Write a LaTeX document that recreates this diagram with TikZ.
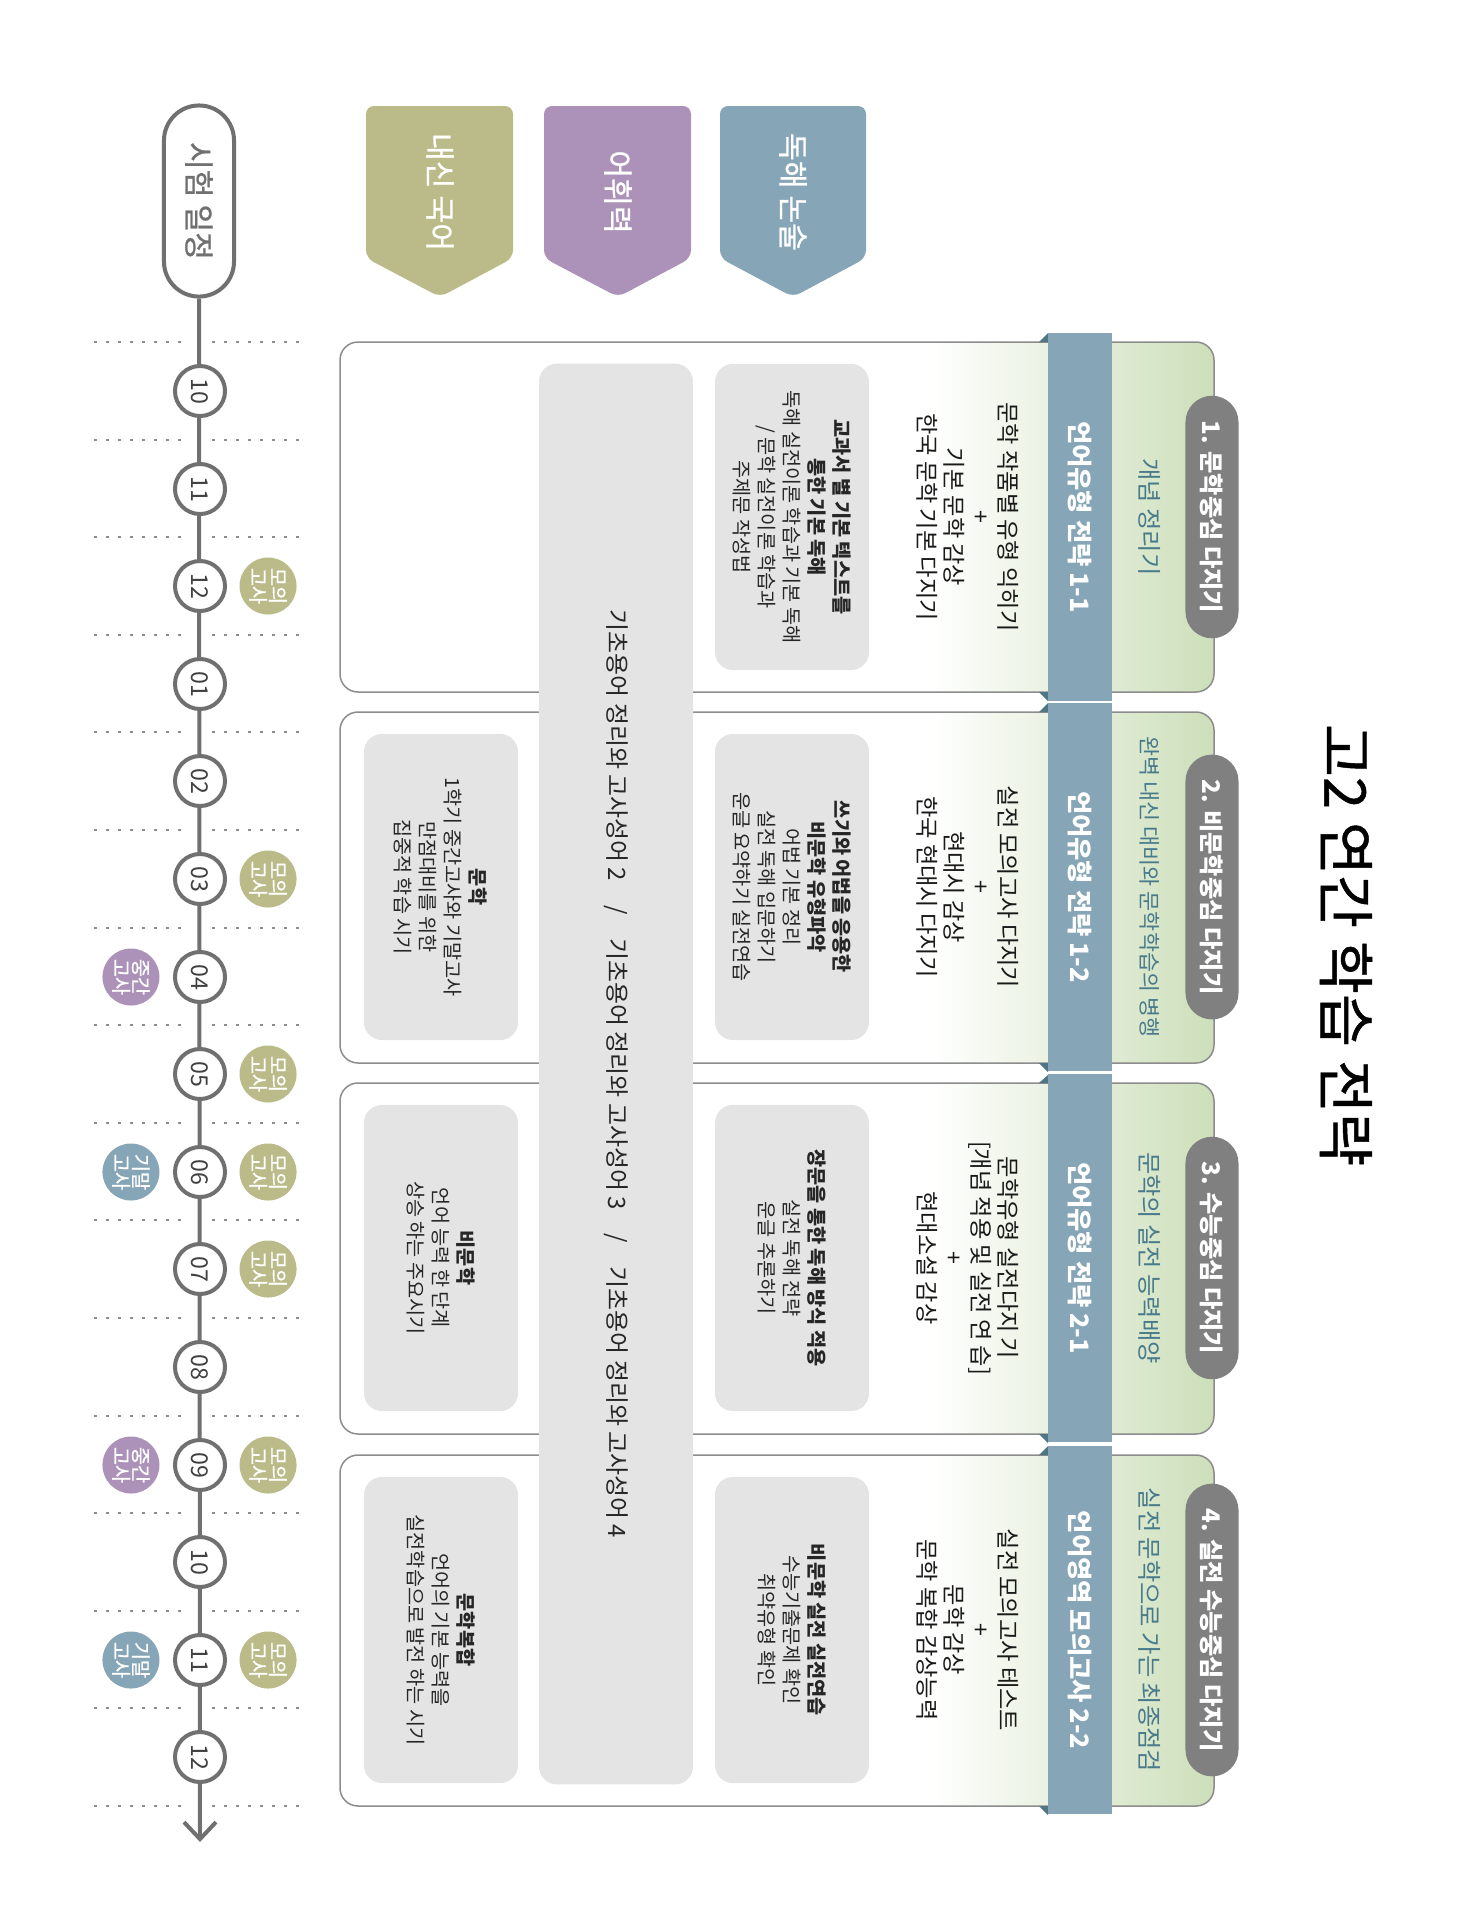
\documentclass[tikz,border=0pt]{standalone}
\usepackage{fontspec}
\setmainfont{Noto Sans CJK KR}
\newfontface\medfont[FakeBold=0.8]{Noto Sans CJK KR}
\usetikzlibrary{arrows.meta}

\definecolor{cOlive}{RGB}{187,187,137}
\definecolor{cPurple}{RGB}{172,146,185}
\definecolor{cBlue}{RGB}{134,166,183}
\definecolor{cFold}{RGB}{80,118,134}
\definecolor{cPill}{RGB}{128,128,128}
\definecolor{cBox}{RGB}{228,228,228}
\definecolor{cGreen}{RGB}{205,223,186}
\definecolor{cTeal}{RGB}{72,122,140}
\definecolor{cLine}{RGB}{112,112,112}
\definecolor{cGuide}{RGB}{140,140,140}

\tikzset{
  tl/.style={draw=cLine, line width=0.04cm},
  guide/.style={draw=cGuide, line width=0.015cm, dash pattern=on 0.03cm off 0.09cm},
  month/.style={circle, draw=cLine, line width=0.04cm, fill=white, minimum size=0.5cm, inner sep=0pt,
    rotate=-90, text=black!75, font=\fontsize{6.6}{6.6}\selectfont},
  badge/.style={circle, fill=#1, minimum size=0.57cm, inner sep=0pt, rotate=-90, text=white,
    align=center, font=\medfont\fontsize{5.6}{5.6}\selectfont},
  cat/.style={rotate=-90, text=white, font=\medfont\fontsize{8.6}{8.6}\selectfont},
  panel/.style={draw=cGuide, line width=0.015cm, rounded corners=0.18cm},
  band/.style={rotate=-90, fill=cBlue, minimum width=3.68cm, minimum height=0.64cm, inner sep=0pt,
    text=white, font=\bfseries\fontsize{7.2}{7.2}\selectfont},
  subtitle/.style={rotate=-90, text=cTeal, font=\fontsize{6.9}{6.9}\selectfont},
  pill/.style={rotate=-90, fill=cPill, rounded corners=0.265cm, minimum height=0.53cm, inner ysep=0pt,
    inner xsep=0.25cm, text=white, font=\bfseries\fontsize{6.9}{6.9}\selectfont},
  maintext/.style={rotate=-90, align=center, text=black!90, font=\fontsize{6.6}{7.7}\selectfont},
  graybox/.style={rotate=-90, fill=cBox, rounded corners=0.18cm, minimum width=3.06cm, minimum height=1.54cm,
    inner sep=0pt, align=center, text=black!85, font=\fontsize{5.6}{7.1}\selectfont}
}

\begin{document}
\begin{tikzpicture}[x=0.01cm, y=-0.01cm]
\useasboundingbox (0,0) rectangle (1469,1920);

% title
\node[rotate=-90, font=\medfont\fontsize{16.4}{16.4}\selectfont] (title) at (1346,945) {고2 연간 학습 전략};

% category heads
\fill[cOlive, rounded corners=0.08cm] (366,106) -- (513,106) -- (513,258) -- (440,297) -- (366,258) -- cycle;
\node[cat] (naesin) at (440,192) {내신 국어};
\fill[cPurple, rounded corners=0.08cm] (544,106) -- (691,106) -- (691,258) -- (618,297) -- (544,258) -- cycle;
\node[cat] (vocab) at (618,192) {어휘력};
\fill[cBlue, rounded corners=0.08cm] (720,106) -- (866,106) -- (866,258) -- (793,297) -- (720,258) -- cycle;
\node[cat] (reading) at (793,192) {독해 논술};

% guide lines
\draw[guide] (94,342) -- (188,342) (212,342) -- (305,342);
\draw[guide] (94,440) -- (188,440) (212,440) -- (305,440);
\draw[guide] (94,537) -- (188,537) (212,537) -- (305,537);
\draw[guide] (94,635) -- (188,635) (212,635) -- (305,635);
\draw[guide] (94,732) -- (188,732) (212,732) -- (305,732);
\draw[guide] (94,830) -- (188,830) (212,830) -- (305,830);
\draw[guide] (94,928) -- (188,928) (212,928) -- (305,928);
\draw[guide] (94,1025) -- (188,1025) (212,1025) -- (305,1025);
\draw[guide] (94,1123) -- (188,1123) (212,1123) -- (305,1123);
\draw[guide] (94,1220) -- (188,1220) (212,1220) -- (305,1220);
\draw[guide] (94,1318) -- (188,1318) (212,1318) -- (305,1318);
\draw[guide] (94,1416) -- (188,1416) (212,1416) -- (305,1416);
\draw[guide] (94,1513) -- (188,1513) (212,1513) -- (305,1513);
\draw[guide] (94,1611) -- (188,1611) (212,1611) -- (305,1611);
\draw[guide] (94,1708) -- (188,1708) (212,1708) -- (305,1708);
\draw[guide] (94,1806) -- (188,1806) (212,1806) -- (305,1806);

% timeline
\node[rotate=-90, draw=cLine, line width=0.04cm, fill=white, rounded corners=0.35cm, minimum width=1.91cm,
  minimum height=0.70cm, text=cLine, font=\medfont\fontsize{8.6}{8.6}\selectfont] (sched) at (199,201) {시험 일정};
\coordinate (tlend) at (200,1842);
\draw[tl, -{Straight Barb[length=0.17cm, width=0.32cm]}] (sched.east) -- (tlend);

\node[month] (m10) at (200,391) {10};
\node[month] (m11) at (200,489) {11};
\node[month] (m12) at (200,586) {12};
\node[month] (m01) at (200,684) {01};
\node[month] (m02) at (200,781) {02};
\node[month] (m03) at (200,879) {03};
\node[month] (m04) at (200,977) {04};
\node[month] (m05) at (200,1074) {05};
\node[month] (m06) at (200,1172) {06};
\node[month] (m07) at (200,1269) {07};
\node[month] (m08) at (200,1367) {08};
\node[month] (m09) at (200,1465) {09};
\node[month] (m10b) at (200,1562) {10};
\node[month] (m11b) at (200,1660) {11};
\node[month] (m12b) at (200,1757) {12};

% exams
\node[badge=cOlive] (mock12) at ([xshift=0.68cm]m12) {모의\\고사};
\node[badge=cOlive] (mock03) at ([xshift=0.68cm]m03) {모의\\고사};
\node[badge=cOlive] (mock05) at ([xshift=0.68cm]m05) {모의\\고사};
\node[badge=cOlive] (mock06) at ([xshift=0.68cm]m06) {모의\\고사};
\node[badge=cOlive] (mock07) at ([xshift=0.68cm]m07) {모의\\고사};
\node[badge=cOlive] (mock09) at ([xshift=0.68cm]m09) {모의\\고사};
\node[badge=cOlive] (mock11) at ([xshift=0.68cm]m11b) {모의\\고사};
\node[badge=cPurple] (mid04) at ([xshift=-0.69cm]m04) {중간\\고사};
\node[badge=cPurple] (mid09) at ([xshift=-0.69cm]m09) {중간\\고사};
\node[badge=cBlue] (fin06) at ([xshift=-0.69cm]m06) {기말\\고사};
\node[badge=cBlue] (fin11) at ([xshift=-0.69cm]m11b) {기말\\고사};

% stage 1
\begin{scope}
\clip[rounded corners=0.18cm] (340,342) rectangle (1214,692);
\shade[left color=white, right color=cGreen] (930,342) rectangle (1214,692);
\end{scope}
\draw[panel] (340,342) rectangle (1214,692);
\fill[cFold] (1039,342) -- (1048,333) -- (1048,342) -- cycle;
\fill[cFold] (1039,692) -- (1048,701) -- (1048,692) -- cycle;
\node[band] (band1) at (1080,517) {언어유형 전략 1-1};
\node[subtitle] (sub1) at (1150,517) {개념 정리기};
\node[pill] (pill1) at (1212,517) {1. 문학중심 다지기};
\node[maintext] (main1) at (968,517) {문학 작품별 유형 익히기\\+\\기본 문학 감상\\한국 문학 기본 다지기};
\node[graybox] (rd1) at (792,517) {\textbf{교과서 별 기본 텍스트를}\\\textbf{통한 기본 독해}\\독해 실전이론 학습과 기본 독해\\/ 문학 실전이론 학습과\\주제문 작성법};

% stage 2
\begin{scope}
\clip[rounded corners=0.18cm] (340,712) rectangle (1214,1063);
\shade[left color=white, right color=cGreen] (930,712) rectangle (1214,1063);
\end{scope}
\draw[panel] (340,712) rectangle (1214,1063);
\fill[cFold] (1039,712) -- (1048,703) -- (1048,712) -- cycle;
\fill[cFold] (1039,1063) -- (1048,1072) -- (1048,1063) -- cycle;
\node[band] (band2) at (1080,887) {언어유형 전략 1-2};
\node[subtitle, font=\fontsize{6.2}{6.2}\selectfont] (sub2) at (1150,887) {완벽 내신 대비와 문학학습의 병행};
\node[pill] (pill2) at (1212,887) {2. 비문학중심 다지기};
\node[maintext] (main2) at (968,887) {실전 모의고사 다지기\\+\\현대시 감상\\한국 현대시 다지기};
\node[graybox] (rd2) at (792,887) {\textbf{쓰기와 어법을 응용한}\\\textbf{비문학 유형파악}\\어법 기본 정리\\실전 독해 입문하기\\운글 요약하기 실전연습};
\node[graybox] (ns2) at (441,887) {\textbf{문학}\\1학기 중간고사와 기말고사\\만점대비를 위한\\집중적 학습 시기};

% stage 3
\begin{scope}
\clip[rounded corners=0.18cm] (340,1083) rectangle (1214,1434);
\shade[left color=white, right color=cGreen] (930,1083) rectangle (1214,1434);
\end{scope}
\draw[panel] (340,1083) rectangle (1214,1434);
\fill[cFold] (1039,1083) -- (1048,1075) -- (1048,1083) -- cycle;
\fill[cFold] (1039,1434) -- (1048,1443) -- (1048,1434) -- cycle;
\node[band] (band3) at (1080,1258) {언어유형 전략 2-1};
\node[subtitle] (sub3) at (1150,1258) {문학의 실전 능력배양};
\node[pill] (pill3) at (1212,1258) {3. 수능중심 다지기};
\node[maintext] (main3) at (968,1258) {문학유형 실전다지 기\\{[}개념 적용 및 실전 연 습{]}\\+\\현대소설 감상};
\node[graybox] (rd3) at (792,1258) {\textbf{장문을 통한 독해 방식 적용}\\실전 독해 전략\\운글 추론하기};
\node[graybox] (ns3) at (441,1258) {\textbf{비문학}\\언어 능력 한 단계\\상승 하는 주요시기};

% stage 4
\begin{scope}
\clip[rounded corners=0.18cm] (340,1455) rectangle (1214,1806);
\shade[left color=white, right color=cGreen] (930,1455) rectangle (1214,1806);
\end{scope}
\draw[panel] (340,1455) rectangle (1214,1806);
\fill[cFold] (1039,1455) -- (1048,1446) -- (1048,1455) -- cycle;
\fill[cFold] (1039,1806) -- (1048,1815) -- (1048,1806) -- cycle;
\node[band] (band4) at (1080,1630) {언어영역 모의고사 2-2};
\node[subtitle] (sub4) at (1150,1630) {실전 문학으로 가는 최종점검};
\node[pill] (pill4) at (1212,1630) {4. 실전 수능중심 다지기};
\node[maintext] (main4) at (968,1630) {실전 모의고사 테스트\\+\\문학 감상\\문학 복합 감상능력};
\node[graybox] (rd4) at (792,1630) {\textbf{비문학 실전 실전연습}\\수능기출문제 확인\\취약유형 확인};
\node[graybox] (ns4) at (441,1630) {\textbf{문학복합}\\언어의 기본 능력을\\실전학습으로 발전 하는 시기};

% vocabulary bar
\node[graybox, minimum width=14.2cm, font=\fontsize{6.8}{6.8}\selectfont] (vocabbar) at (616,1074)
  {기초용어 정리와 고사성어 2\quad/\quad{}기초용어 정리와 고사성어 3\quad/\quad{}기초용어 정리와 고사성어 4};
\end{tikzpicture}
\end{document}
